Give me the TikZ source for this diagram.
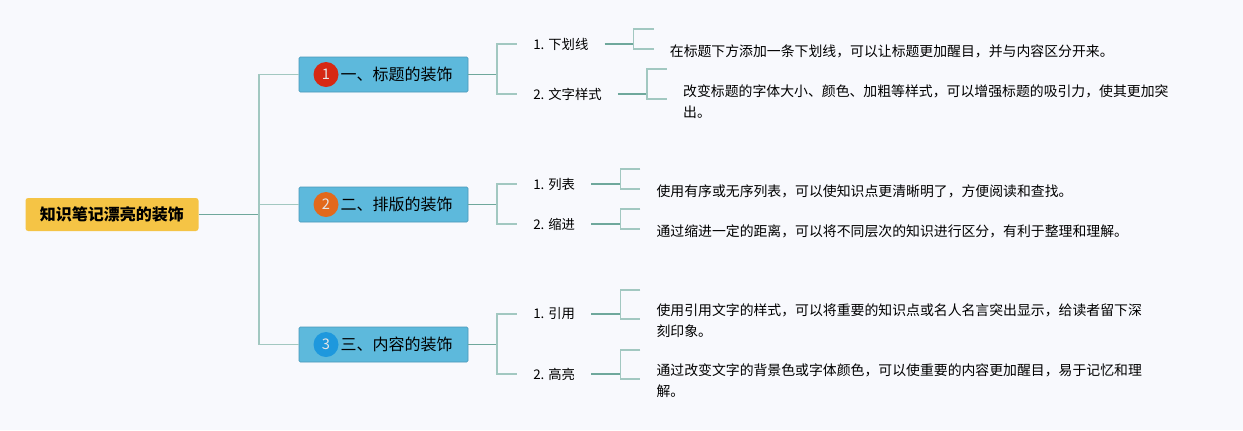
\documentclass[tikz,border=0pt]{standalone}
\usepackage{fontspec}
\setmainfont{Noto Sans CJK SC}
\usetikzlibrary{positioning}
\definecolor{bgcol}{HTML}{F8F9FD}
\definecolor{rootcol}{HTML}{F5C445}
\definecolor{boxcol}{HTML}{5DB9DC}
\definecolor{boxline}{HTML}{4A98B8}
\definecolor{stemcol}{HTML}{6FA89C}
\definecolor{forkcol}{HTML}{A2C8C1}
\definecolor{numA}{HTML}{D62813}
\definecolor{numB}{HTML}{E2691C}
\definecolor{numC}{HTML}{1E98DD}
\tikzset{
	root/.style={fill=rootcol,rounded corners=2pt,minimum width=129.75pt,minimum height=24.75pt,font=\fontsize{12}{14}\selectfont\bfseries},
	box/.style={draw=boxline,fill=boxcol,rounded corners=1pt,minimum width=126.75pt,minimum height=26.25pt,font=\fontsize{12}{14}\selectfont},
	num/.style={circle,minimum size=18.75pt,inner sep=0pt,text=white!80!gray,font=\fontsize{11}{12}\selectfont},
	sub/.style={anchor=west,inner xsep=12pt,inner ysep=2pt,font=\fontsize{10}{12}\selectfont},
	leaf/.style={inner sep=0pt,align=left,font=\fontsize{10.4}{15.8}\selectfont},
	stem/.style={draw=stemcol,line width=1.1pt},
	fork/.style={draw=forkcol,line width=1pt}
}
\begin{document}
\begin{tikzpicture}[x=0.75pt,y=-0.75pt]
	\fill[bgcol] (0,0) rectangle (1243,430);
	\useasboundingbox (0,0) rectangle (1243,430);

	\node[root] (root) at (112,214.5) {知识笔记漂亮的装饰};
	\node[box] (b1) at (383.5,74.5) {\hspace{19.5pt}一、标题的装饰};
	\node[box] (b2) at (383.5,204.5) {\hspace{19.5pt}二、排版的装饰};
	\node[box] (b3) at (383.5,344.5) {\hspace{19.5pt}三、内容的装饰};
	\node[num,fill=numA] (n1) at (326,74.5) {1};
	\node[num,fill=numB] (n2) at (326,204.5) {2};
	\node[num,fill=numC] (n3) at (326,344.5) {3};

	\coordinate (j0) at (259,214.5);
	\coordinate (j1) at (497,74.5);
	\coordinate (j2) at (497,204.5);
	\coordinate (j3) at (497,344.5);

	\node[sub] (l11) at (517,44) {1. 下划线};
	\node[sub] (l12) at (517,94) {2. 文字样式};
	\node[sub] (l21) at (517,184) {1. 列表};
	\node[sub] (l22) at (517,224) {2. 缩进};
	\node[sub] (l31) at (517,314) {1. 引用};
	\node[sub] (l32) at (517,374) {2. 高亮};

	\path (l11.east) ++(29,0) coordinate (f11);
	\path (l12.east) ++(29,0) coordinate (f12);
	\path (l21.east) ++(29,0) coordinate (f21);
	\path (l22.east) ++(29,0) coordinate (f22);
	\path (l31.east) ++(29,0) coordinate (f31);
	\path (l32.east) ++(29,0) coordinate (f32);

	\node[leaf,right=27pt of f11,yshift=-5.25pt] (t11) {在标题下方添加一条下划线，可以让标题更加醒目，并与内容区分开来。};
	\node[leaf,right=27pt of f12,yshift=-6pt] (t12) {改变标题的字体大小、颜色、加粗等样式，可以增强标题的吸引力，使其更加突\\出。};
	\node[leaf,right=27pt of f21,yshift=-5.25pt] (t21) {使用有序或无序列表，可以使知识点更清晰明了，方便阅读和查找。};
	\node[leaf,right=27pt of f22,yshift=-5.25pt] (t22) {通过缩进一定的距离，可以将不同层次的知识进行区分，有利于整理和理解。};
	\node[leaf,right=27pt of f31,yshift=-5.25pt] (t31) {使用引用文字的样式，可以将重要的知识点或名人名言突出显示，给读者留下深\\刻印象。};
	\node[leaf,right=27pt of f32,yshift=-5.25pt] (t32) {通过改变文字的背景色或字体颜色，可以使重要的内容更加醒目，易于记忆和理\\解。};

	% root to sections
	\draw[stem] (root.east) -- (j0);
	\draw[fork] (j0) |- (b1.west);
	\draw[fork] (j0) |- (b2.west);
	\draw[fork] (j0) |- (b3.west);

	% sections to items
	\draw[stem] (b1.east) -- (j1);
	\draw[stem] (b2.east) -- (j2);
	\draw[stem] (b3.east) -- (j3);
	\draw[fork] (j1) |- (l11.west);
	\draw[fork] (j1) |- (l12.west);
	\draw[fork] (j2) |- (l21.west);
	\draw[fork] (j2) |- (l22.west);
	\draw[fork] (j3) |- (l31.west);
	\draw[fork] (j3) |- (l32.west);

	% items to texts
	\draw[stem] (l11.east) -- (f11);
	\draw[stem] (l12.east) -- (f12);
	\draw[stem] (l21.east) -- (f21);
	\draw[stem] (l22.east) -- (f22);
	\draw[stem] (l31.east) -- (f31);
	\draw[stem] (l32.east) -- (f32);
	\draw[fork] (f11) ++(20,-15) -| ++(-20,20) -- ++(20,0);
	\draw[fork] (f12) ++(20,-25) -| ++(-20,30) -- ++(20,0);
	\draw[fork] (f21) ++(20,-15) -| ++(-20,20) -- ++(20,0);
	\draw[fork] (f22) ++(20,-15) -| ++(-20,20) -- ++(20,0);
	\draw[fork] (f31) ++(20,-24) -| ++(-20,29) -- ++(20,0);
	\draw[fork] (f32) ++(20,-24) -| ++(-20,29) -- ++(20,0);
\end{tikzpicture}
\end{document}
